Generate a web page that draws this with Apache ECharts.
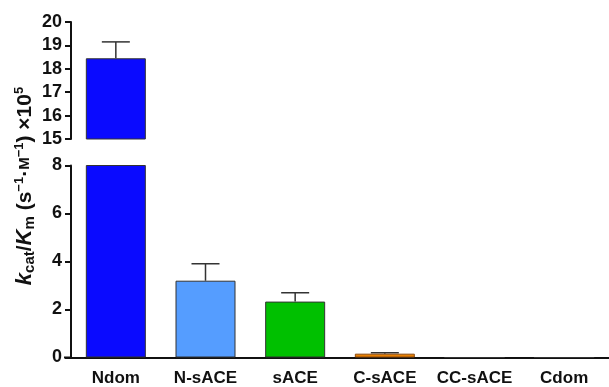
<!DOCTYPE html>
<html>
<head>
<meta charset="utf-8">
<script src="https://cdn.jsdelivr.net/npm/echarts@6/dist/echarts.min.js"></script>
<style>
  html, body { margin: 0; padding: 0; background: #fff; }
  #chart { width: 609px; height: 387px; }
</style>
</head>
<body>
<div id="chart"></div>
<script>
// Catalytic efficiency per enzyme construct (×10^5 s⁻¹·M⁻¹)
const categories = ['Ndom', 'N-sACE', 'sACE', 'C-sACE', 'CC-sACE', 'Cdom'];
const values = [18.45, 3.2, 2.33, 0.16, 0, 0];
const errors = [0.7, 0.71, 0.37, 0.04, 0, 0];
const barColors = ['#0a0aff', '#559dff', '#00c000', '#e88000', '#888888', '#888888'];
const barBorders = ['#333', '#333', '#333', '#8a4a10', '#333', '#333'];
const upperTicks = { min: 15, max: 20, interval: 1 };
const lowerTicks = { min: 0, max: 8, interval: 2 };

const FONT = 'Liberation Sans, Arial, sans-serif';
const axisLineStyle = { color: '#111', width: 2 };

const barData = values.map((v, i) => ({
  value: v,
  itemStyle: { color: barColors[i], borderColor: barBorders[i], borderWidth: 1 }
}));
const errData = values.map((v, i) => [i, v, v + errors[i]]);

function renderError(params, api) {
  const lo = api.coord([api.value(0), api.value(1)]);
  const hi = api.coord([api.value(0), api.value(2)]);
  if (api.value(2) <= api.value(1)) return null;
  const half = 14;
  const style = { stroke: '#333', lineWidth: 1.5, fill: null };
  return {
    type: 'group',
    children: [
      { type: 'line', shape: { x1: lo[0], y1: lo[1], x2: hi[0], y2: hi[1] }, style },
      { type: 'line', shape: { x1: hi[0] - half, y1: hi[1], x2: hi[0] + half, y2: hi[1] }, style }
    ]
  };
}

const yLabel = { fontFamily: FONT, fontWeight: 'bold', fontSize: 18, color: '#111', margin: 9 };

const option = {
  animation: false,
  backgroundColor: '#fff',
  grid: [
    { left: 71, right: 0, top: 22, height: 117 },
    { left: 71, right: 0, top: 165.5, height: 192 }
  ],
  xAxis: [
    {
      type: 'category', gridIndex: 0, data: categories,
      show: false
    },
    {
      type: 'category', gridIndex: 1, data: categories,
      axisLine: { lineStyle: axisLineStyle },
      axisTick: { alignWithLabel: true, length: 5, lineStyle: axisLineStyle },
      axisLabel: {
        interval: 0, hideOverlap: false,
        fontFamily: FONT, fontWeight: 'bold', fontSize: 17, color: '#111', margin: 12
      }
    }
  ],
  yAxis: [
    {
      type: 'value', gridIndex: 0,
      min: upperTicks.min, max: upperTicks.max, interval: upperTicks.interval,
      axisLine: { show: true, lineStyle: axisLineStyle },
      axisTick: { show: true, length: 6, lineStyle: axisLineStyle },
      axisLabel: yLabel,
      splitLine: { show: false }
    },
    {
      type: 'value', gridIndex: 1,
      min: lowerTicks.min, max: lowerTicks.max, interval: lowerTicks.interval,
      axisLine: { show: true, lineStyle: axisLineStyle },
      axisTick: { show: true, length: 6, lineStyle: axisLineStyle },
      axisLabel: yLabel,
      splitLine: { show: false }
    }
  ],
  series: [
    {
      type: 'bar', xAxisIndex: 0, yAxisIndex: 0, data: barData,
      barWidth: 60, clip: true, z: 2
    },
    {
      type: 'bar', xAxisIndex: 1, yAxisIndex: 1, data: barData,
      barWidth: 60, clip: true, z: 2
    },
    {
      type: 'custom', xAxisIndex: 0, yAxisIndex: 0, data: errData,
      renderItem: renderError, clip: true, z: 1
    },
    {
      type: 'custom', xAxisIndex: 1, yAxisIndex: 1, data: errData,
      renderItem: renderError, clip: true, z: 1
    }
  ],
  graphic: [
    {
      // short stub of the baseline to the left of the lower y-axis
      type: 'line',
      shape: { x1: 64, y1: 357.5, x2: 72, y2: 357.5 },
      style: { stroke: '#111', lineWidth: 2 }
    },
    {
      type: 'text',
      x: 25, y: 186,
      rotation: Math.PI / 2,
      style: {
        text: '{i|k}{sub|cat}{n|/}{i|K}{sub|m}{n| (s}{sup|−1}{n|·}{sc|M}{sup|−1}{n|) ×10}{sup|5}',
        align: 'center',
        verticalAlign: 'middle',
        fill: '#111',
        rich: {
          i: { fontFamily: FONT, fontWeight: 'bold', fontStyle: 'italic', fontSize: 22, color: '#111' },
          n: { fontFamily: FONT, fontWeight: 'bold', fontSize: 21, color: '#111' },
          sub: { fontFamily: FONT, fontWeight: 'bold', fontSize: 15, color: '#111', verticalAlign: 'bottom', padding: [9, 0, 0, 0] },
          sup: { fontFamily: FONT, fontWeight: 'bold', fontSize: 13, color: '#111', verticalAlign: 'top', padding: [0, 0, 9, 0] },
          sc: { fontFamily: FONT, fontWeight: 'bold', fontSize: 15, color: '#111' }
        }
      }
    }
  ]
};

const chart = echarts.init(document.getElementById('chart'), null, { renderer: 'canvas' });
chart.setOption(option);
</script>
</body>
</html>
